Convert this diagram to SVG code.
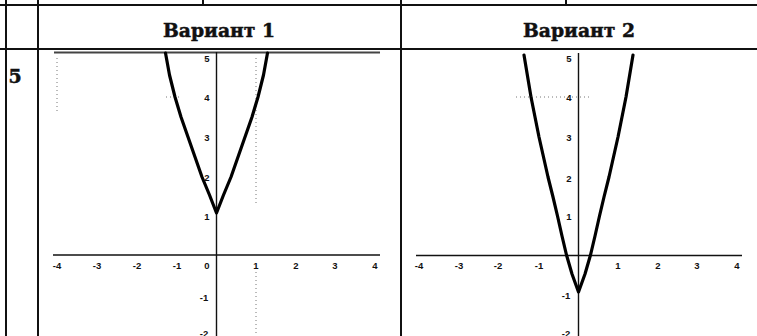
<svg xmlns="http://www.w3.org/2000/svg" width="757" height="336" viewBox="0 0 757 336">
<style>
.rule{stroke:#111;stroke-width:2;fill:none}
.axis{stroke:#111;stroke-width:1.4;fill:none}
.curve{stroke:#000;stroke-width:3.2;fill:none;stroke-linejoin:round;stroke-linecap:round}
.dots{stroke:#777;stroke-width:1;stroke-dasharray:1 3;fill:none}
.hdr{font-family:"DejaVu Serif","Liberation Serif",serif;font-weight:bold;font-size:19px;fill:#111;stroke:#111;stroke-width:0.5;text-anchor:middle}
.num{font-family:"Liberation Sans",Arial,sans-serif;font-weight:bold;font-size:9.5px;fill:#111;text-anchor:middle}
</style>
<rect width="757" height="336" fill="#fff"/>
<g id="table">
<line class="rule" x1="0" y1="5" x2="757" y2="5"/>
<line class="rule" x1="0" y1="49" x2="757" y2="49"/>
<line class="rule" x1="6" y1="0" x2="6" y2="336"/>
<line class="rule" x1="38" y1="0" x2="38" y2="336"/>
<line class="rule" x1="401" y1="0" x2="401" y2="336"/>
<line class="rule" x1="203" y1="0" x2="203" y2="5"/>
<line class="rule" x1="566" y1="0" x2="566" y2="5"/>
</g>
<g id="header-1"><text class="hdr" x="219" y="37" textLength="112" lengthAdjust="spacingAndGlyphs">Вариант 1</text></g>
<g id="header-2"><text class="hdr" x="579" y="37" textLength="112" lengthAdjust="spacingAndGlyphs">Вариант 2</text></g>
<g id="row-label"><text class="hdr" x="15" y="83" font-size="20">5</text></g>
<g id="graph-1">
<line x1="54" y1="52.5" x2="380" y2="52.5" stroke="#444" stroke-width="2"/>
<line class="dots" x1="256" y1="58" x2="256" y2="205"/>
<line class="dots" x1="256" y1="272" x2="256" y2="336"/>
<line class="dots" x1="57" y1="58" x2="57" y2="112"/>
<line class="dots" x1="166" y1="97" x2="180" y2="97"/>
<line class="axis" x1="53" y1="255" x2="380" y2="255"/>
<line class="axis" x1="216.5" y1="52" x2="216.5" y2="336"/>
<polyline class="curve" points="165.5,53 169.5,75 175,97 181,117 188,137 195,157 202,177 209.5,195 216.5,213 223.5,195 231,177 238,157 245,137 252,117 258,97 263.5,75 267.5,53"/>
<g class="num">
<text x="57" y="268.5">-4</text><text x="97" y="268.5">-3</text><text x="137" y="268.5">-2</text><text x="177" y="268.5">-1</text>
<text x="207" y="268.5">0</text><text x="256" y="268.5">1</text><text x="296" y="268.5">2</text><text x="335" y="268.5">3</text><text x="375" y="268.5">4</text>
<text x="207" y="61.5">5</text><text x="207" y="100.5">4</text><text x="207" y="140.5">3</text><text x="207" y="180.5">2</text><text x="207" y="219.5">1</text>
<text x="204" y="300.5">-1</text><text x="204" y="337">-2</text>
</g>
</g>
<g id="graph-2">
<line class="dots" x1="516" y1="97" x2="592" y2="97"/>
<line class="axis" x1="416" y1="255.5" x2="742" y2="255.5"/>
<line class="axis" x1="578.5" y1="53" x2="578.5" y2="336"/>
<polyline class="curve" points="524,55 527.5,76 531,97 535,117 539,137 543.5,157 548,177 553,197 557.5,216 562,236 566.5,255 572,274 578.5,292 585,274 590.5,255 595,236 599.5,216 604,197 609,177 613.5,157 618,137 622,117 626,97 629.5,76 633,55"/>
<g class="num">
<text x="419" y="268.5">-4</text><text x="459" y="268.5">-3</text><text x="498" y="268.5">-2</text><text x="539" y="268.5">-1</text>
<text x="618" y="268.5">1</text><text x="658" y="268.5">2</text><text x="697" y="268.5">3</text><text x="737" y="268.5">4</text>
<text x="569" y="61.5">5</text><text x="569" y="100.5">4</text><text x="569" y="140.5">3</text><text x="569" y="181.5">2</text><text x="569" y="219.5">1</text>
<text x="566" y="298.5">-1</text><text x="566" y="337">-2</text>
</g>
</g>
</svg>
